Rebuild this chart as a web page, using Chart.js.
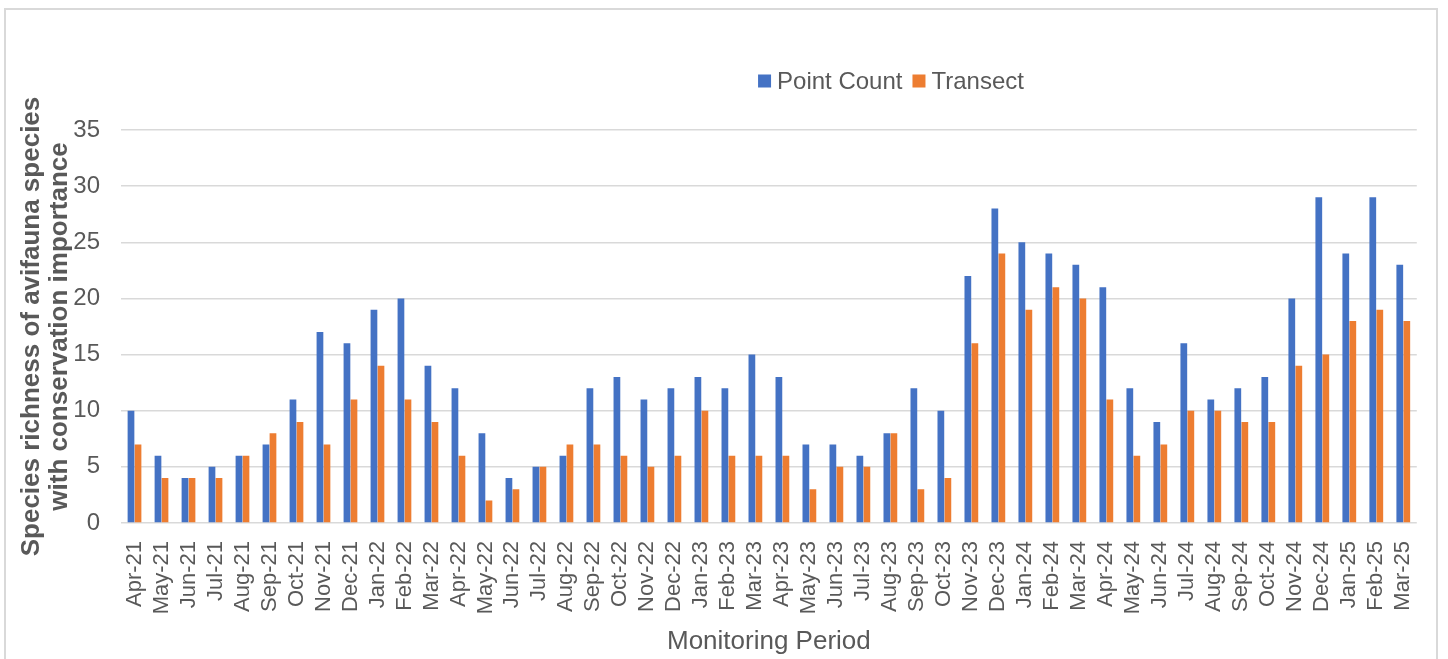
<!DOCTYPE html>
<html>
<head>
<meta charset="utf-8">
<script src="https://cdn.jsdelivr.net/npm/chart.js@4.4.1/dist/chart.umd.min.js"></script>
<style>
  html, body { margin:0; padding:0; background:#fff; overflow:hidden; }
  #wrap { position:relative; width:1448px; height:659px; }
  #frame { position:absolute; left:4px; top:8px; width:1434px; height:670px; border:2px solid #d9d9d9; box-sizing:border-box; }
  #chart { position:absolute; left:0; top:0; }
</style>
</head>
<body>
<div id="wrap">
  <div id="frame"></div>
  <canvas id="chart" width="1448" height="659"></canvas>
</div>
<script>
// ── Data ──────────────────────────────────────────────────
const months = ['Apr-21','May-21','Jun-21','Jul-21','Aug-21','Sep-21','Oct-21','Nov-21','Dec-21','Jan-22','Feb-22','Mar-22',
                'Apr-22','May-22','Jun-22','Jul-22','Aug-22','Sep-22','Oct-22','Nov-22','Dec-22','Jan-23','Feb-23','Mar-23',
                'Apr-23','May-23','Jun-23','Jul-23','Aug-23','Sep-23','Oct-23','Nov-23','Dec-23','Jan-24','Feb-24','Mar-24',
                'Apr-24','May-24','Jun-24','Jul-24','Aug-24','Sep-24','Oct-24','Nov-24','Dec-24','Jan-25','Feb-25','Mar-25'];
const pointCount = [10,6,4,5,6,7,11,17,16,19,20,14, 12,8,4,5,6,12,13,11,12,13,12,15, 13,7,7,6,8,12,10,22,28,25,24,23, 21,12,9,16,11,12,13,20,29,24,29,23];
const transect   = [7,4,4,4,6,8,9,7,11,14,11,9, 6,2,3,5,7,7,6,5,6,10,6,6, 6,3,5,5,8,3,4,16,24,19,21,20, 11,6,7,10,10,9,9,14,15,18,19,18];
const yTicks = [0,5,10,15,20,25,30,35];

const TEXT = '#595959';
const GRID = '#d9d9d9';
const FONT = "'Liberation Sans', Arial, sans-serif";

// ── Legend drawn on canvas, centred where the original sits ─
const legendPlugin = {
  id: 'topLegend',
  afterDraw(chart) {
    const ctx = chart.ctx;
    const cx = 891, cy = 81, box = 13, gap = 6, between = 10;
    ctx.save();
    ctx.font = '24px ' + FONT;
    const items = chart.data.datasets.map(d => ({ label: d.label, color: d.backgroundColor, w: ctx.measureText(d.label).width }));
    let total = items.reduce((s, it) => s + box + gap + it.w, 0) + between * (items.length - 1);
    let x = cx - total / 2;
    ctx.textBaseline = 'middle';
    items.forEach(it => {
      ctx.fillStyle = it.color;
      ctx.fillRect(x, cy - box / 2, box, box);
      x += box + gap;
      ctx.fillStyle = TEXT;
      ctx.fillText(it.label, x, cy + 1);
      x += it.w + between;
    });
    ctx.restore();
  }
};

new Chart(document.getElementById('chart').getContext('2d'), {
  type: 'bar',
  data: {
    labels: months,
    datasets: [
      { label: 'Point Count', data: pointCount, backgroundColor: '#4472C4' },
      { label: 'Transect',    data: transect,   backgroundColor: '#ED7D31' }
    ]
  },
  options: {
    responsive: false,
    animation: false,
    layout: { padding: { left: 4, right: 30, top: 130, bottom: 0 } },
    datasets: { bar: { categoryPercentage: 0.52, barPercentage: 0.96 } },
    plugins: { legend: { display: false }, tooltip: { enabled: false } },
    scales: {
      x: {
        grid: { display: false, drawTicks: false },
        border: { display: false },
        ticks: { autoSkip: false, maxRotation: 90, minRotation: 90, padding: 18, color: TEXT, font: { family: FONT, size: 22 } },
        title: { display: true, text: 'Monitoring Period', color: TEXT, font: { family: FONT, size: 26 }, padding: { top: 0, bottom: 2 } },
        afterFit(s) { s.height = 136; }
      },
      y: {
        min: 0, max: 35,
        afterBuildTicks(s) { s.ticks = yTicks.map(v => ({ value: v })); },
        grid: { color: GRID, lineWidth: 1.5, drawTicks: false },
        border: { display: false },
        ticks: { padding: 21, color: TEXT, font: { family: FONT, size: 24 } },
        title: {
          display: true,
          text: ['Species richness of avifauna species', 'with conservation importance'],
          color: TEXT,
          font: { family: FONT, size: 26, weight: 'bold', lineHeight: 1.08 },
          padding: { top: 14, bottom: 0 }
        },
        afterFit(s) { s.width = 117; }
      }
    }
  },
  plugins: [legendPlugin]
});
</script>
</body>
</html>
